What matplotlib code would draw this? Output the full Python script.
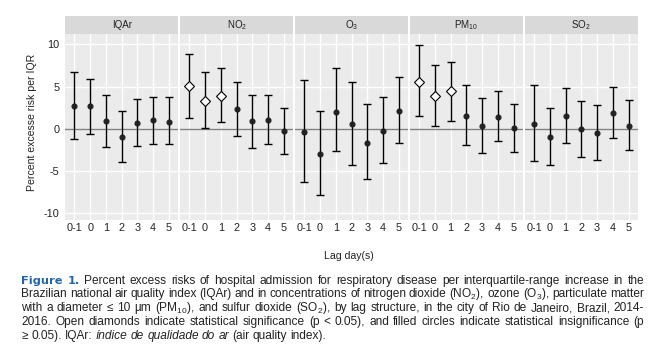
import numpy as np
import matplotlib
matplotlib.use('Agg')
import matplotlib.pyplot as plt

plt.rcParams['font.family'] = ['Liberation Sans', 'DejaVu Sans']

# dados
lags = ['0-1', '0', '1', '2', '3', '4', '5']
strip_labels = ['IQAr', r'NO$\mathregular{_2}$', r'O$\mathregular{_3}$',
                r'PM$\mathregular{_{10}}$', r'SO$\mathregular{_2}$']

est_iqar = [2.72, 2.72, 0.91, -0.95, 0.71, 1.07, 0.83]
low_iqar = [-1.14, -0.63, -2.13, -3.94, -2.05, -1.78, -1.81]
up_iqar = [6.71, 5.88, 4.06, 2.09, 3.51, 3.83, 3.75]

est_no2 = [5.05, 3.35, 3.91, 2.33, 0.91, 1.10, -0.28]
low_no2 = [1.30, 0.08, 0.79, -0.87, -2.25, -1.81, -3.00]
up_no2 = [8.84, 6.71, 7.18, 5.52, 4.06, 3.98, 2.45]

est_o3 = [-0.36, -2.92, 2.05, 0.63, -1.70, -0.24, 2.17]
low_o3 = [-6.31, -7.81, -2.60, -4.26, -5.96, -4.06, -1.70]
up_o3 = [5.76, 2.09, 7.18, 5.52, 2.92, 3.75, 6.11]

est_pm10 = [5.60, 3.91, 4.50, 1.54, 0.32, 1.46, 0.16]
low_pm10 = [1.50, 0.32, 0.91, -1.93, -2.88, -1.46, -2.76]
up_pm10 = [9.90, 7.53, 7.89, 5.17, 3.63, 4.46, 2.92]

est_so2 = [0.55, -0.95, 1.54, 0.04, -0.47, 1.93, 0.39]
low_so2 = [-3.83, -4.26, -1.70, -3.31, -3.71, -1.07, -2.49]
up_so2 = [5.17, 2.45, 4.81, 3.27, 2.80, 4.93, 3.39]

estimativas = [est_iqar, est_no2, est_o3, est_pm10, est_so2]
inferiores = [low_iqar, low_no2, low_o3, low_pm10, low_so2]
superiores = [up_iqar, up_no2, up_o3, up_pm10, up_so2]

W, H = 666, 351
fig = plt.figure(figsize=(W / 100, H / 100), dpi=100)

# layout em pixels
x0, x1 = 65, 638
y_top, y_bot = 33.5, 220
strip_top = 15.7
gap = 1.5
n = len(strip_labels)
pw = (x1 - x0 - gap * (n - 1)) / n
fs_eixo = 7.8

for i in range(n):
    left = x0 + i * (pw + gap)
    ax = fig.add_axes([left / W, 1 - y_bot / H, pw / W, (y_bot - y_top) / H])
    ax.set_facecolor('#EBEBEB')
    for s in ax.spines.values():
        s.set_visible(False)
    ax.set_xlim(-0.6, len(lags) - 0.4)
    ax.set_ylim(-10.77, 11.3)
    ax.set_yticks([-10, -5, 0, 5, 10])
    ax.set_xticks(np.arange(len(lags)))
    ax.set_xticklabels(lags, fontsize=fs_eixo, color='#222222')
    ax.grid(True, color='white', linewidth=1.0)
    ax.set_axisbelow(True)
    ax.tick_params(length=0, pad=2)
    if i == 0:
        ax.set_yticklabels(['-10', '-5', '0', '5', '10'], fontsize=fs_eixo, color='#222222')
        ax.tick_params(axis='y', pad=4)
    else:
        ax.set_yticklabels([])
    ax.axhline(0, color='#808080', linewidth=1.0, zorder=1)

    est = np.array(estimativas[i])
    lo = np.array(inferiores[i])
    up = np.array(superiores[i])
    xs = np.arange(len(lags))
    ax.errorbar(xs, est, yerr=[est - lo, up - est], fmt='none', ecolor='black',
                elinewidth=1.0, capsize=3.2, capthick=1.0, zorder=3)
    sig = lo > 0
    ax.plot(xs[~sig], est[~sig], 'o', color='#222222', markersize=3.4, zorder=4)
    ax.plot(xs[sig], est[sig], 'D', markerfacecolor='white', markeredgecolor='black',
            markeredgewidth=0.8, markersize=5.0, zorder=4)

    # faixa do titulo do painel
    sax = fig.add_axes([left / W, 1 - y_top / H, pw / W, (y_top - strip_top) / H])
    sax.set_facecolor('#D9D9D9')
    for s in sax.spines.values():
        s.set_visible(False)
    sax.set_xticks([])
    sax.set_yticks([])
    sax.text(0.5, 0.5, strip_labels[i], ha='center', va='center', fontsize=7.0,
             color='#222222', transform=sax.transAxes)

fig.text(32.5 / W, 1 - 122 / H, 'Percent excesse risk per IQR', rotation=90,
         ha='center', va='center', fontsize=7.6, color='#222222')
fig.text(349 / W, 1 - 256 / H, 'Lag day(s)', ha='center', va='center',
         fontsize=7.6, color='#222222')

# legenda justificada
azul = '#2266AA'
txt = '#222222'
linhas = [
    [('Figure', 'b'), ('1.', 'b')] + [(w, 'n') for w in
     'Percent excess risks of hospital admission for respiratory disease per interquartile-range increase in the'.split()],
    [(w, 'n') for w in
     r'Brazilian national air quality index (IQAr) and in concentrations of nitrogen dioxide (NO$\mathregular{_2}$), ozone (O$\mathregular{_3}$), particulate matter'.split()],
    [(w, 'n') for w in
     r'with a diameter ≤ 10 µm (PM$\mathregular{_{10}}$), and sulfur dioxide (SO$\mathregular{_2}$), by lag structure, in the city of Rio de Janeiro, Brazil, 2014-'.split()],
    [(w, 'n') for w in
     '2016. Open diamonds indicate statistical significance (p < 0.05), and filled circles indicate statistical insignificance (p'.split()],
    [(w, 'n') for w in '≥ 0.05). IQAr:'.split()] + [(w, 'i') for w in 'índice de qualidade do ar'.split()]
    + [(w, 'n') for w in '(air quality index).'.split()],
]
linha_y = [280.7, 294.4, 308.2, 321.9, 335.7]
cap_left, cap_right = 21.5, 644
fs_cap = 8.6

fig.canvas.draw()
renderer = fig.canvas.get_renderer()
esp = fig.text(0, 0, 'a a', fontsize=fs_cap)
sem = fig.text(0, 0, 'aa', fontsize=fs_cap)
largura_espaco = esp.get_window_extent(renderer).width - sem.get_window_extent(renderer).width
esp.remove()
sem.remove()

for k, linha in enumerate(linhas):
    textos = []
    for palavra, estilo in linha:
        kw = dict(fontsize=fs_cap, color=txt, va='center', ha='left')
        if estilo == 'b':
            kw.update(fontweight='bold', color=azul, family=['DejaVu Sans'], fontsize=fs_cap - 0.4)
        elif estilo == 'i':
            kw.update(style='italic')
        t = fig.text(0, 1 - linha_y[k] / H, palavra, **kw)
        textos.append(t)
    larguras = [t.get_window_extent(renderer).width for t in textos]
    if k < len(linhas) - 1:
        espaco = (cap_right - cap_left - sum(larguras)) / (len(textos) - 1)
        espaco = max(espaco, largura_espaco * 0.8)
    else:
        espaco = largura_espaco
    x = cap_left
    for t, wd in zip(textos, larguras):
        t.set_x(x / W)
        x += wd + espaco

fig.savefig('out.png', dpi=100)
